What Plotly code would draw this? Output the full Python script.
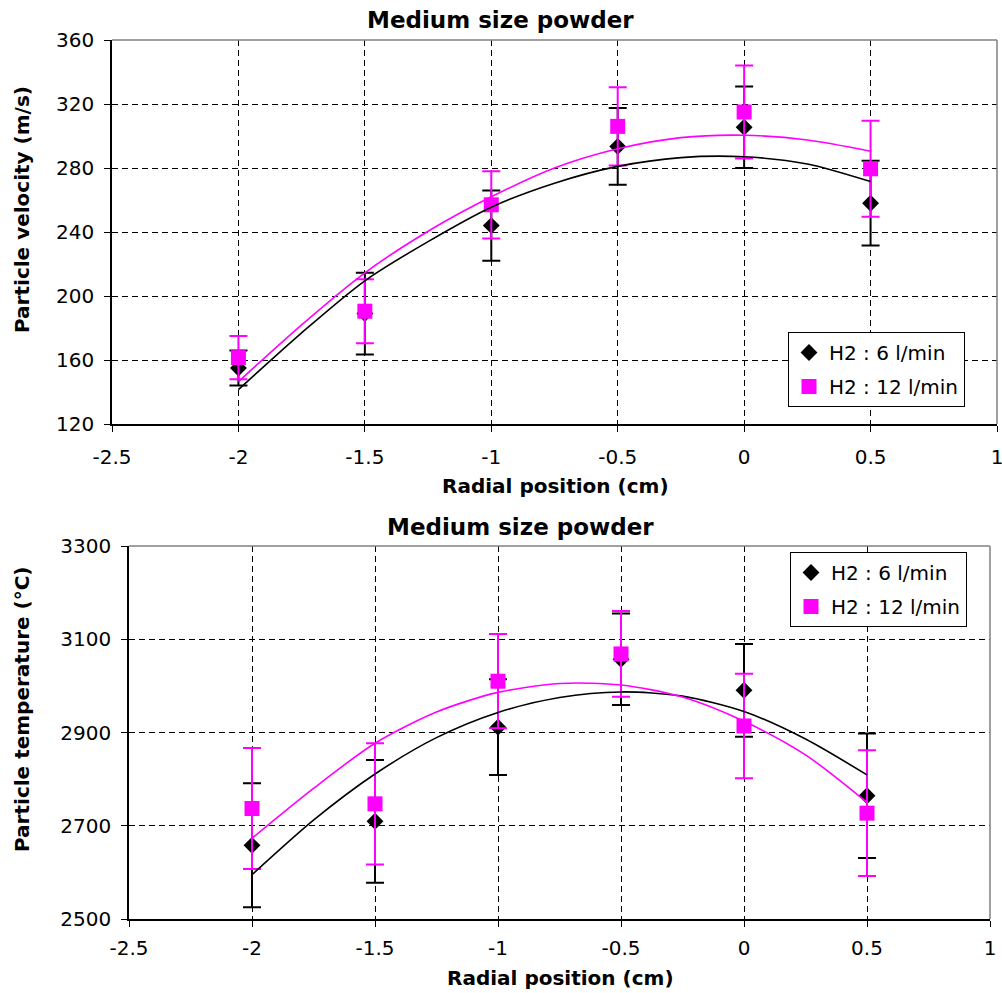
import plotly.graph_objects as go

W, H = 1002, 993

# ---------------- data ----------------
radial = [-2, -1.5, -1, -0.5, 0, 0.5]

vel_h2_6 = [155, 189, 244, 293.5, 305.5, 258]
vel_h2_6_err = [11, 25.5, 22, 24, 25.5, 26.5]
vel_h2_12 = [161.5, 190.5, 257, 306, 315, 279.5]
vel_h2_12_err = [13.5, 20, 21, 24.5, 29, 30]

temp_h2_6 = [2658, 2709.5, 2911.5, 3057, 2990.5, 2764.5]
temp_h2_6_err = [133, 131.5, 102.5, 98, 99.5, 133.5]
temp_h2_12 = [2737, 2747, 3010, 3068.5, 2914, 2727]
temp_h2_12_err = [130, 130, 101, 92, 112, 135]

# trend lines
trend_x = [-2, -1.75, -1.5, -1.25, -1, -0.75, -0.5, -0.25, 0, 0.25, 0.5]
vel_trend_6 = [141.5, 177, 209.5, 234, 255.5, 270.5, 281, 286.5, 287, 282.5, 271.5]
vel_trend_12 = [146.5, 182, 214.5, 240.5, 262, 280, 292, 299, 300.5, 297.5, 290.5]
temp_trend_6 = [2595, 2712, 2811, 2889, 2943, 2975, 2987, 2978, 2945, 2886, 2809]
temp_trend_12 = [2673, 2780, 2877, 2944, 2986, 3005, 3002, 2976, 2924, 2852, 2750]

x_tick_vals = [-2.5, -2, -1.5, -1, -0.5, 0, 0.5, 1]
x_tick_text = ["-2.5", "-2", "-1.5", "-1", "-0.5", "0", "0.5", "1"]
vel_ticks = [120, 160, 200, 240, 280, 320, 360]
temp_ticks = [2500, 2700, 2900, 3100, 3300]

series_names = ["H2 : 6 l/min", "H2 : 12 l/min"]
chart_title = "Medium size powder"
x_title = "Radial position (cm)"
vel_title = "Particle velocity (m/s)"
temp_title = "Particle temperature (\u00b0C)"

BLACK = "#000000"
MAGENTA = "#FF00FF"
FONT = "DejaVu Sans"


def px_x(p):
    return p / W


def px_y(p):
    return 1 - p / H


fig = go.Figure()


def add_series(xa, ya, y, err, color, symbol, size, name, legend, group):
    fig.add_trace(go.Scatter(
        x=radial, y=y, mode="markers", name=name, xaxis=xa, yaxis=ya,
        legend=legend, legendgroup=group,
        marker=dict(symbol=symbol, size=size, color=color, line=dict(width=0)),
        error_y=dict(type="data", array=err, visible=True, color=color,
                     thickness=2, width=9),
    ))


def add_trend(xa, ya, y, color):
    fig.add_trace(go.Scatter(
        x=trend_x, y=y, mode="lines", xaxis=xa, yaxis=ya, showlegend=False,
        line=dict(color=color, width=1.6, shape="spline", smoothing=0.8),
        hoverinfo="skip",
    ))


# top chart
add_series("x", "y", vel_h2_6, vel_h2_6_err, BLACK, "diamond", 13, series_names[0], "legend", "a1")
add_series("x", "y", vel_h2_12, vel_h2_12_err, MAGENTA, "square", 15, series_names[1], "legend", "b1")
add_trend("x", "y", vel_trend_6, BLACK)
add_trend("x", "y", vel_trend_12, MAGENTA)

# bottom chart
add_series("x2", "y2", temp_h2_6, temp_h2_6_err, BLACK, "diamond", 13, series_names[0], "legend2", "a2")
add_series("x2", "y2", temp_h2_12, temp_h2_12_err, MAGENTA, "square", 15, series_names[1], "legend2", "b2")
add_trend("x2", "y2", temp_trend_6, BLACK)
add_trend("x2", "y2", temp_trend_12, MAGENTA)

grid = dict(showgrid=True, gridcolor=BLACK, gridwidth=1, griddash="6px,4px",
            showline=True, linecolor=BLACK, linewidth=1.5, ticks="outside",
            ticklen=6, tickcolor=BLACK, tickwidth=1.2, zeroline=False,
            automargin=False, ticklabeloverflow="allow",
            tickfont=dict(family=FONT, size=20, color=BLACK), fixedrange=True)

top_dom_x = [px_x(112), px_x(997)]
top_dom_y = [px_y(424), px_y(40)]
bot_dom_x = [px_x(129), px_x(990)]
bot_dom_y = [px_y(919), px_y(546)]

legend_style = dict(xanchor="left", yanchor="top",
                    bgcolor="white", bordercolor=BLACK, borderwidth=1,
                    font=dict(family=FONT, size=20, color=BLACK),
                    tracegroupgap=5, itemwidth=30)

fig.update_layout(
    width=W, height=H, margin=dict(l=0, r=0, t=0, b=0, autoexpand=False),
    paper_bgcolor="white", plot_bgcolor="white",
    font=dict(family=FONT, color=BLACK),
    xaxis=dict(domain=top_dom_x, anchor="y", range=[-2.5, 1],
               tickvals=x_tick_vals, ticktext=x_tick_text,
               ticklabelstandoff=8, **grid),
    yaxis=dict(domain=top_dom_y, anchor="x", range=[120, 360],
               tickvals=vel_ticks, ticklabelstandoff=6, **grid),
    xaxis2=dict(domain=bot_dom_x, anchor="y2", range=[-2.5, 1],
                tickvals=x_tick_vals, ticktext=x_tick_text,
                ticklabelstandoff=4, **grid),
    yaxis2=dict(domain=bot_dom_y, anchor="x2", range=[2500, 3300],
                tickvals=temp_ticks, ticklabelstandoff=6, **grid),
    legend=dict(x=px_x(788), y=px_y(332), **legend_style),
    legend2=dict(x=px_x(790), y=px_y(552), **legend_style),
    showlegend=True,
)

# gray top/right borders of plot areas
for xr, yr in (("x", "y"), ("x2", "y2")):
    fig.add_shape(type="line", xref=f"{xr} domain", yref=f"{yr} domain",
                  x0=0, x1=1, y0=1, y1=1, line=dict(color="#808080", width=1.5), layer="above")
    fig.add_shape(type="line", xref=f"{xr} domain", yref=f"{yr} domain",
                  x0=1, x1=1, y0=0, y1=1, line=dict(color="#808080", width=1.5), layer="above")

ann = []
ann.append(dict(text=f"<b>{chart_title}</b>", x=px_x(500), y=px_y(20),
                font=dict(family=FONT, size=23, color=BLACK)))
ann.append(dict(text=f"<b>{chart_title}</b>", x=px_x(520), y=px_y(527),
                font=dict(family=FONT, size=23, color=BLACK)))
ann.append(dict(text=f"<b>{x_title}</b>", x=px_x(555), y=px_y(486),
                font=dict(family=FONT, size=20, color=BLACK)))
ann.append(dict(text=f"<b>{x_title}</b>", x=px_x(560), y=px_y(978),
                font=dict(family=FONT, size=20, color=BLACK)))
ann.append(dict(text=f"<b>{vel_title}</b>", x=px_x(22), y=px_y(210), textangle=-90,
                font=dict(family=FONT, size=20, color=BLACK)))
ann.append(dict(text=f"<b>{temp_title}</b>", x=px_x(22), y=px_y(709), textangle=-90,
                font=dict(family=FONT, size=20, color=BLACK)))
for a in ann:
    a.update(xref="paper", yref="paper", xanchor="center", yanchor="middle",
             showarrow=False)
fig.update_layout(annotations=ann)

fig.write_html("out.html")
